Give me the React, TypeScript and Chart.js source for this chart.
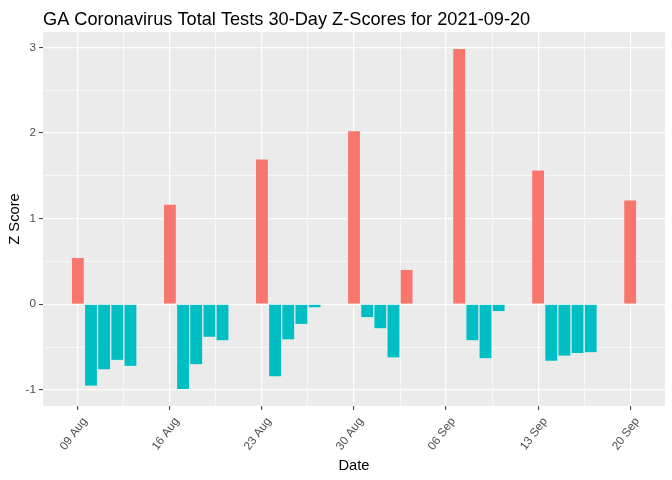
import React, { useEffect, useRef } from "react";
import { Chart, registerables } from "chart.js";

Chart.register(...registerables);

const TITLE = "GA Coronavirus Total Tests 30-Day Z-Scores for 2021-09-20";
const X_TITLE = "Date";
const Y_TITLE = "Z Score";

const dates = [
  "2021-08-09", "2021-08-10", "2021-08-11", "2021-08-12", "2021-08-13",
  "2021-08-16", "2021-08-17", "2021-08-18", "2021-08-19", "2021-08-20",
  "2021-08-23", "2021-08-24", "2021-08-25", "2021-08-26", "2021-08-27",
  "2021-08-30", "2021-08-31", "2021-09-01", "2021-09-02", "2021-09-03",
  "2021-09-07", "2021-09-08", "2021-09-09", "2021-09-10",
  "2021-09-13", "2021-09-14", "2021-09-15", "2021-09-16", "2021-09-17",
  "2021-09-20",
];

const zScores = [
  0.54, -0.95, -0.76, -0.65, -0.72,
  1.16, -0.99, -0.70, -0.38, -0.42,
  1.69, -0.84, -0.41, -0.23, -0.035,
  2.02, -0.15, -0.28, -0.62, 0.40,
  2.98, -0.42, -0.63, -0.08,
  1.56, -0.66, -0.60, -0.57, -0.56,
  1.21,
];

const xTickDates = [
  "2021-08-09", "2021-08-16", "2021-08-23", "2021-08-30",
  "2021-09-06", "2021-09-13", "2021-09-20",
];
const xTickLabels = ["09 Aug", "16 Aug", "23 Aug", "30 Aug", "06 Sep", "13 Sep", "20 Sep"];

const yTickValues = [-1, 0, 1, 2, 3];
const yTickLabels = ["-1", "0", "1", "2", "3"];

const POS_COLOR = "#F8766D";
const NEG_COLOR = "#00BFC4";
const PANEL_BG = "#EBEBEB";
const TEXT_GRAY = "#4D4D4D";
const TICK_GRAY = "#333333";
const FONT = "'Liberation Sans', Arial, sans-serif";

const DAY = 86400000;
const origin = Date.parse(dates[0]);
const dayIndex = (d: string) => Math.round((Date.parse(d) - origin) / DAY);

export default function App() {
  const ref = useRef<HTMLCanvasElement>(null);

  useEffect(() => {
    document.body.style.margin = "0";
    const canvas = ref.current;
    if (!canvas) return;

    const points = dates.map((d, i) => ({ x: dayIndex(d), y: zScores[i] }));
    const xs = points.map((p) => p.x);
    const xMinData = Math.min(...xs) - 0.5;
    const xMaxData = Math.max(...xs) + 0.5;
    const xPad = (xMaxData - xMinData) * 0.05;
    const yMinData = Math.min(0, ...zScores);
    const yMaxData = Math.max(0, ...zScores);
    const yPad = (yMaxData - yMinData) * 0.05;

    const xMajor = xTickDates.map(dayIndex);
    const xMinor: number[] = [];
    for (let i = 0; i < xMajor.length - 1; i++) xMinor.push((xMajor[i] + xMajor[i + 1]) / 2);
    const yMinor: number[] = [];
    for (let i = 0; i < yTickValues.length - 1; i++) yMinor.push((yTickValues[i] + yTickValues[i + 1]) / 2);
    yMinor.unshift(yTickValues[0] - 0.5);
    yMinor.push(yTickValues[yTickValues.length - 1] + 0.5);

    const xMin = xMinData - xPad;
    const xMax = xMaxData + xPad;
    const yMin = yMinData - yPad;
    const yMax = yMaxData + yPad;

    const isMajorX = (v: number) => xMajor.indexOf(v) >= 0;
    const isMajorY = (v: number) => yTickValues.indexOf(v) >= 0;

    const bgPlugin = {
      id: "panelBg",
      beforeDraw(chart: any) {
        const { ctx, chartArea } = chart;
        ctx.save();
        ctx.fillStyle = PANEL_BG;
        ctx.fillRect(chartArea.left, chartArea.top, chartArea.right - chartArea.left, chartArea.bottom - chartArea.top);
        ctx.restore();
      },
      afterDraw(chart: any) {
        const { ctx, chartArea } = chart;
        ctx.save();
        ctx.fillStyle = "#000000";
        ctx.font = `18.2px ${FONT}`;
        ctx.textAlign = "left";
        ctx.textBaseline = "alphabetic";
        ctx.fillText(TITLE, chartArea.left, 25);
        ctx.restore();
      },
    };

    const chart = new Chart(canvas, {
      type: "bar",
      data: {
        datasets: [
          {
            data: points,
            backgroundColor: (c: any) => ((c.raw && c.raw.y > 0) ? POS_COLOR : NEG_COLOR),
            borderWidth: 0,
            barPercentage: 0.9,
            categoryPercentage: 1,
          },
        ],
      },
      options: {
        animation: false,
        responsive: false,
        devicePixelRatio: window.devicePixelRatio || 1,
        layout: { padding: { left: 0, top: 32, right: 7, bottom: 0 } },
        plugins: {
          legend: { display: false },
          tooltip: { enabled: false },
          title: { display: false },
        },
        scales: {
          x: {
            type: "linear",
            offset: false,
            min: xMin,
            max: xMax,
            afterBuildTicks: (s: any) => {
              s.ticks = [...xMajor, ...xMinor].sort((a, b) => a - b).map((v) => ({ value: v }));
            },
            afterFit: (s: any) => {
              s.height = 74;
            },
            ticks: {
              autoSkip: false,
              minRotation: 53,
              maxRotation: 53,
              padding: 5,
              labelOffset: 7,
              color: TEXT_GRAY,
              font: { family: FONT, size: 11.7 },
              callback: (v: any) => {
                const i = xMajor.indexOf(Number(v));
                return i >= 0 ? xTickLabels[i] : "";
              },
            },
            grid: {
              offset: false,
              color: "#FFFFFF",
              lineWidth: (c: any) => (isMajorX(c.tick?.value) ? 1.2 : 0.6),
              drawTicks: true,
              tickLength: 4,
              tickColor: (c: any) => (isMajorX(c.tick?.value) ? TICK_GRAY : "rgba(0,0,0,0)"),
              tickWidth: 1,
            },
            border: { display: false },
            title: {
              display: true,
              text: X_TITLE,
              color: "#000000",
              font: { family: FONT, size: 14.7 },
              padding: { top: 0, bottom: 5 },
            },
          },
          y: {
            type: "linear",
            min: yMin,
            max: yMax,
            afterBuildTicks: (s: any) => {
              s.ticks = [...yTickValues, ...yMinor]
                .filter((v) => v >= yMin && v <= yMax)
                .sort((a, b) => a - b)
                .map((v) => ({ value: v }));
            },
            afterFit: (s: any) => {
              s.width = 43;
            },
            ticks: {
              autoSkip: false,
              padding: 3,
              color: TEXT_GRAY,
              font: { family: FONT, size: 11.7 },
              callback: (v: any) => {
                const i = yTickValues.indexOf(Number(v));
                return i >= 0 ? yTickLabels[i] : "";
              },
            },
            grid: {
              color: "#FFFFFF",
              lineWidth: (c: any) => (isMajorY(c.tick?.value) ? 1.2 : 0.6),
              drawTicks: true,
              tickLength: 4,
              tickColor: (c: any) => (isMajorY(c.tick?.value) ? TICK_GRAY : "rgba(0,0,0,0)"),
              tickWidth: 1,
            },
            border: { display: false },
            title: {
              display: true,
              text: Y_TITLE,
              color: "#000000",
              font: { family: FONT, size: 14.7 },
              padding: { top: 6, bottom: 0 },
            },
          },
        },
      },
      plugins: [bgPlugin],
    } as any);

    return () => chart.destroy();
  }, []);

  return (
    <div style={{ position: "relative", width: 672, height: 480 }}>
      <canvas ref={ref} width={672} height={480} style={{ width: 672, height: 480, display: "block" }} />
    </div>
  );
}
